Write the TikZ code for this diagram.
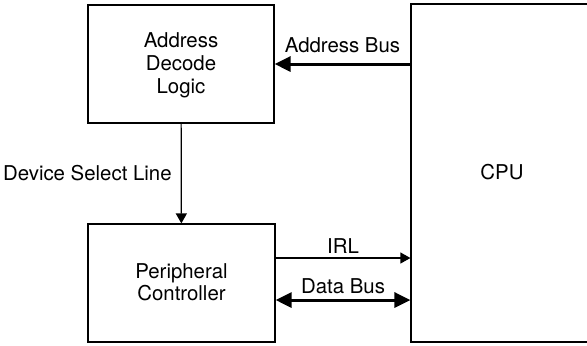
\documentclass[tikz,border=0pt]{standalone}
\usepackage{fontspec}
\setmainfont{TeX Gyre Heros}
\usetikzlibrary{arrows.meta}
\tikzset{
	block diagram/.cd,
	unit/.style = {
		draw,
		line width = 0.6pt,
		align = center,
		text depth = 1pt,
		font = \fontsize{10.2}{11.4}\selectfont
	},
	bus/.style = {
		line width = 1.5pt,
		-{Triangle[length = 8pt, width = 7.5pt]}
	},
	wire/.style = {
		line width = 0.6pt,
		-{Triangle[length = 5pt, width = 5.5pt]}
	},
}

\begin{document}
\begin{tikzpicture}[
		x = 0.5pt, y = -0.5pt,
		tag/.style = {
			font = \fontsize{10.2}{12}\selectfont,
			inner sep = 2pt
		}]
		\useasboundingbox[fill = white] (0, 0) rectangle (587, 345);
		\begin{scope}
			\node[block diagram/unit, minimum width = 93pt, minimum height = 59pt] (adl) at (181, 64) {Address\\Decode\\Logic};
			\node[block diagram/unit, minimum width = 93.5pt, minimum height = 59pt] (pc) at (181.5, 283) {Peripheral\\Controller};
			\node[block diagram/unit, minimum width = 91pt, minimum height = 169pt] (cpu) at (502, 173) {CPU};
		\end{scope}
		\coordinate (irl-out) at ([yshift = 12.5pt]pc.east);
		\coordinate (data-out) at ([yshift = -8.5pt]pc.east);
		\draw[block diagram/bus] (cpu.west |- adl.east) -- (adl.east) node[tag, midway, above = 3pt] {Address Bus};
		\draw[block diagram/wire] (adl) -- (pc) node[tag, midway, left = 2.5pt] {Device Select Line};
		\draw[block diagram/wire] (irl-out) -- (irl-out -| cpu.west) node[tag, midway, above = 0pt] {IRL};
		\draw[block diagram/bus, {Triangle[length = 8pt, width = 7.5pt]}-{Triangle[length = 8pt, width = 7.5pt]}] (data-out) -- (data-out -| cpu.west) node[tag, midway, above = 0.5pt] {Data Bus};
	\end{tikzpicture}
\end{document}
